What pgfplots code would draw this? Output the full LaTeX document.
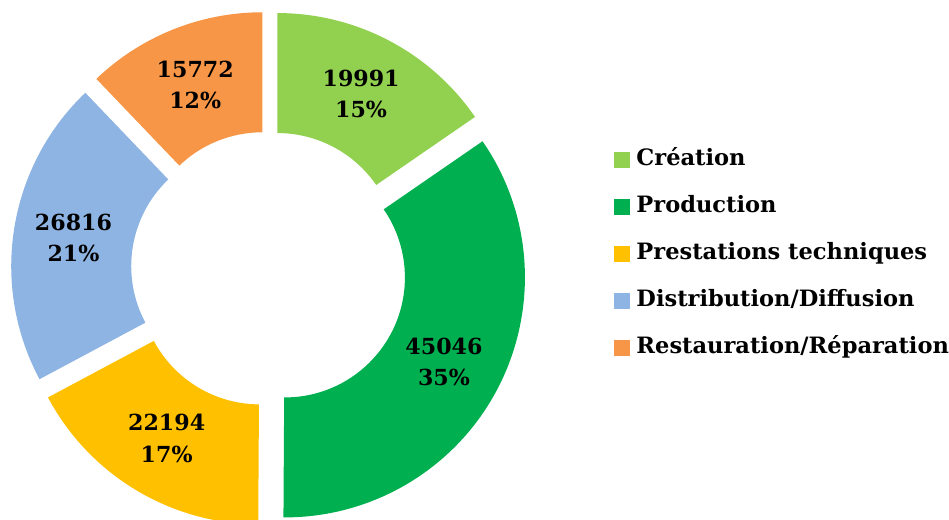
\documentclass[border=0pt]{standalone}
\usepackage{fontspec}
\setmainfont{DejaVu Serif}
\usepackage{pgfplots}
\usepackage{pgfplotstable}
\pgfplotsset{compat=1.18}

\definecolor{c0}{HTML}{92D050}
\definecolor{c1}{HTML}{00B050}
\definecolor{c2}{HTML}{FFC000}
\definecolor{c3}{HTML}{8EB4E3}
\definecolor{c4}{HTML}{F79646}

\pgfplotstableread{
value
19991
45046
22194
26816
15772
}\slices

% geometry in axis units (1 unit = 0.75pt)
\def\cx{269}\def\cy{251}\def\Ro{240}\def\Ri{120}\def\gap{18}

\xdef\total{0}
\foreach \i in {0,...,4}{%
  \pgfplotstablegetelem{\i}{value}\of\slices
  \xdef\total{\fpeval{\total+\pgfplotsretval}}}
\xdef\ang{90}
\foreach \i in {0,...,4}{%
  \pgfplotstablegetelem{\i}{value}\of\slices
  \edef\v{\pgfplotsretval}%
  \edef\s{\ang}%
  \edef\e{\fpeval{round(\s-360*\v/\total,4)}}%
  \edef\m{\fpeval{(\s+\e)/2}}%
  \edef\ox{\fpeval{\cx+\gap*cosd(\m)}}%
  \edef\oy{\fpeval{\cy+\gap*sind(\m)}}%
  \expandafter\xdef\csname sa\i\endcsname{\s}%
  \expandafter\xdef\csname ea\i\endcsname{\e}%
  \expandafter\xdef\csname xa\i\endcsname{\fpeval{round(\ox+\Ro*cosd(\s),3)}}%
  \expandafter\xdef\csname ya\i\endcsname{\fpeval{round(\oy+\Ro*sind(\s),3)}}%
  \expandafter\xdef\csname xb\i\endcsname{\fpeval{round(\ox+\Ri*cosd(\e),3)}}%
  \expandafter\xdef\csname yb\i\endcsname{\fpeval{round(\oy+\Ri*sind(\e),3)}}%
  \expandafter\xdef\csname lx\i\endcsname{\fpeval{round(\ox+(\Ro+\Ri)/2*cosd(\m),3)}}%
  \expandafter\xdef\csname ly\i\endcsname{\fpeval{round(\oy+(\Ro+\Ri)/2*sind(\m),3)}}%
  \expandafter\xdef\csname lab\i\endcsname{\v\noexpand\\\fpeval{round(100*\v/\total)}\noexpand\%}%
  \xdef\ang{\e}}

\newcommand\slice[1]{%
  \fill[c#1, overlay] (axis cs:\csname xa#1\endcsname,\csname ya#1\endcsname)
    arc[start angle=\csname sa#1\endcsname, end angle=\csname ea#1\endcsname, radius=180pt]
    -- (axis cs:\csname xb#1\endcsname,\csname yb#1\endcsname)
    arc[start angle=\csname ea#1\endcsname, end angle=\csname sa#1\endcsname, radius=90pt]
    -- cycle;
  \node[align=center, font=\bfseries\fontsize{16.6}{23.5}\selectfont]
    at (axis cs:\csname lx#1\endcsname,\csname ly#1\endcsname) {\csname lab#1\endcsname};}

\begin{document}
\begin{tikzpicture}
\begin{axis}[
  x=0.75pt, y=0.75pt,
  xmin=0, xmax=949, ymin=0, ymax=520,
  hide axis, clip=false,
  legend image code/.code={\fill[#1] (0pt,-5.6pt) rectangle (11.25pt,5.6pt);},
  legend cell align=left,
  legend style={at={(axis cs:614,371)}, anchor=north west, draw=none, fill=none,
    inner sep=0pt, row sep=19.25pt, column sep=5pt,
    font=\bfseries\fontsize{16.9}{20}\selectfont,
    nodes={inner sep=0pt, text height=12pt, text depth=4pt}},
]
\path (axis cs:0,0) rectangle (axis cs:949,520);
\pgfplotsinvokeforeach{0,...,4}{\slice{#1}}
\addlegendimage{c0}
\addlegendimage{c1}
\addlegendimage{c2}
\addlegendimage{c3}
\addlegendimage{c4}
\legend{Création, Production, Prestations techniques, Distribution/Diffusion, Restauration/Réparation}
\end{axis}
\end{tikzpicture}
\end{document}
